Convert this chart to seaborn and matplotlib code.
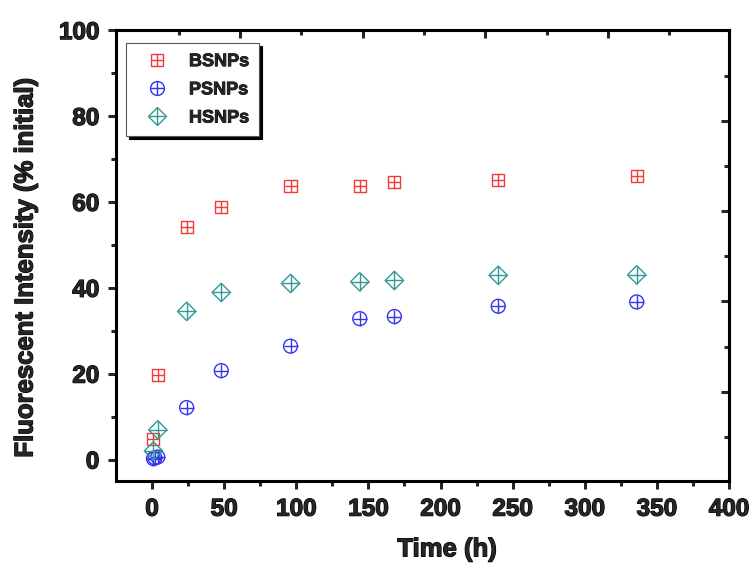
import pandas as pd
import matplotlib
matplotlib.use("Agg")
import matplotlib.pyplot as plt
import matplotlib.patheffects as pe
import seaborn as sns
from matplotlib.lines import Line2D

# data
t_bs = [1, 4, 24, 48, 96, 144, 168, 240, 336]
bsnps = [4.8, 19.6, 54.1, 58.8, 63.7, 63.8, 64.7, 65.0, 66.0]

t_ps = [1, 2, 4, 24, 48, 96, 144, 168, 240, 336]
psnps = [0.2, 0.4, 0.6, 12.1, 20.7, 26.4, 32.8, 33.3, 35.7, 36.7]

t_hs = [1, 4, 24, 48, 96, 144, 168, 240, 336]
hsnps = [2.0, 6.9, 34.5, 38.9, 41.0, 41.4, 41.7, 42.9, 43.0]

labels = ["BSNPs", "PSNPs", "HSNPs"]
colors = ["#f23a3a", "#3434f2", "#2f9a96"]

sns.set_style("white")
plt.rcParams["font.family"] = ["Liberation Sans", "DejaVu Sans"]
plt.rcParams["font.weight"] = "bold"

fig = plt.figure(figsize=(7.55, 5.65), dpi=100)
ax = fig.add_axes([0.1536, 0.1487, 0.812, 0.798])

# shape, shape size, plus size for each series
styles = [("s", 75, 75), ("o", 100, 100), ("D", 88, 169)]
series = [(t_bs, bsnps), (t_ps, psnps), (t_hs, hsnps)]

handles = []
for (t, v), lab, col, (mk, s_shape, s_plus) in zip(series, labels, colors, styles):
    df = pd.DataFrame({"time": t, "value": v})
    sns.scatterplot(data=df, x="time", y="value", marker=mk, s=s_shape,
                    facecolor="none", edgecolor=col, linewidth=1.0, ax=ax, zorder=3)
    sns.scatterplot(data=df, x="time", y="value", marker="+", s=s_plus,
                    color=col, linewidth=1.0, ax=ax, zorder=3)
    h1 = Line2D([], [], linestyle="none", marker=mk, markersize=s_shape ** 0.5,
                markerfacecolor="none", markeredgecolor=col, markeredgewidth=1.0)
    h2 = Line2D([], [], linestyle="none", marker="+", markersize=s_plus ** 0.5,
                color=col, markeredgewidth=1.0)
    handles.append((h1, h2))

ax.set_xlim(-25, 400)
ax.set_ylim(-5, 100)
ax.set_xticks(range(0, 401, 50))
ax.set_xticks(range(25, 400, 50), minor=True)
ax.set_yticks(range(0, 101, 20))
ax.set_yticks(range(10, 100, 20), minor=True)

heavy = [pe.withStroke(linewidth=0.9, foreground="black")]
ax.set_xlabel("Time (h)", fontsize=18.5, fontweight="bold", path_effects=heavy)
ax.set_ylabel("Fluorescent Intensity (% initial)", fontsize=18.5, fontweight="bold",
              path_effects=heavy)
ax.xaxis.set_label_coords(0.54, -0.125)
ax.yaxis.set_label_coords(-0.128, 0.474)

for sp in ax.spines.values():
    sp.set_linewidth(2.2)
    sp.set_color("black")

ax.tick_params(which="major", direction="out", length=6, width=2.2, labelsize=17.5,
               top=False, right=False, bottom=True, left=True, pad=6)
ax.tick_params(which="minor", direction="out", length=3.5, width=2.2,
               top=False, right=False, bottom=True, left=True)
for lbl in ax.get_xticklabels() + ax.get_yticklabels():
    lbl.set_fontweight("bold")
    lbl.set_path_effects(heavy)

# top and right axes carry their own odd tick spacing in the original
top = ax.secondary_xaxis("top")
top.set_xticks([61, 146, 231, 316])
top.set_xticks([18.5, 103.5, 188.5, 273.5, 358.5], minor=True)
top.tick_params(which="major", direction="in", length=6, width=2.2, labeltop=False)
top.tick_params(which="minor", direction="in", length=3.5, width=2.2)
top.spines["top"].set_linewidth(2.2)

right = ax.secondary_yaxis("right")
right.set_yticks([15.8, 36.8, 57.8, 78.8])
right.set_yticks([5.3, 26.3, 47.3, 68.3, 89.3], minor=True)
right.tick_params(which="major", direction="in", length=6, width=2.2, labelright=False)
right.tick_params(which="minor", direction="in", length=3.5, width=2.2)
right.spines["right"].set_linewidth(2.2)

leg = ax.legend(handles, labels, loc="upper left", bbox_to_anchor=(0.016, 0.971),
                borderaxespad=0, fancybox=False,
                shadow={"color": "black", "alpha": 1},
                prop={"weight": "bold", "size": 13}, handletextpad=0.55,
                labelspacing=0.62, borderpad=0.55, handlelength=2.4,
                framealpha=1, edgecolor="#555555")
leg.get_frame().set_linewidth(0.8)
for txt in leg.get_texts():
    txt.set_path_effects([pe.withStroke(linewidth=0.6, foreground="black")])

fig.savefig("out.png", dpi=100)
